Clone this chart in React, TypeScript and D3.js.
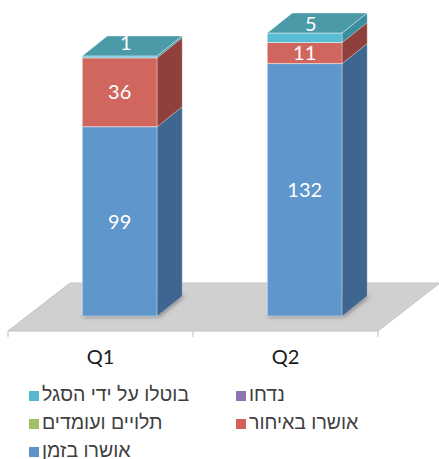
import React from "react";
import * as d3 from "d3";

const categories = ["Q1", "Q2"];
const approvedOnTime = [99, 132];
const approvedLate = [36, 11];
const pending = [0, 0];
const rejected = [0, 0];
const cancelled = [1, 5];

const seriesNames = {
  onTime: "אושרו בזמן",
  late: "אושרו באיחור",
  pending: "תלויים ועומדים",
  rejected: "נדחו",
  cancelled: "בוטלו על ידי הסגל",
};
const stackKeys = ["onTime", "late", "pending", "rejected", "cancelled"];
const legendOrder = ["cancelled", "rejected", "pending", "late", "onTime"];

const colors: Record<string, { front: string; side: string; top: string; legend: string }> = {
  onTime: { front: "#5F96CC", side: "#3E6690", top: "#5084B8", legend: "#5E93C9" },
  late: { front: "#D1665E", side: "#8F403C", top: "#B85550", legend: "#D0645C" },
  pending: { front: "#A4C467", side: "#6E8A3E", top: "#8FAD55", legend: "#A2C165" },
  rejected: { front: "#8C72B0", side: "#5E4A7A", top: "#7A62A0", legend: "#8C74B0" },
  cancelled: { front: "#58BCD2", side: "#3B8E9E", top: "#4A9AA8", legend: "#57B9CF" },
};

const W = 439;
const H = 459;
const floorFrontY = 331;
const floorLeft = 8;
const floorRight = 378;
const floorDX = 62;
const floorDY = -48;
const barT = 0.31;
const depthDX = 25;
const depthDY = -20;
const barFrac = 0.405;

export default function App() {
  const rows = categories.map((c, i) => ({
    cat: c,
    onTime: approvedOnTime[i],
    late: approvedLate[i],
    pending: pending[i],
    rejected: rejected[i],
    cancelled: cancelled[i],
  }));
  const stacked = d3.stack<any>().keys(stackKeys)(rows);

  const baseY = floorFrontY + floorDY * barT;
  const shiftX = floorDX * barT;
  const y = d3.scaleLinear().domain([0, 160]).range([baseY, 10]);
  const x = d3.scaleBand().domain(categories).range([floorLeft, floorRight]).padding(0);
  const bw = x.bandwidth() * barFrac;

  const font = "Lato, 'Open Sans', sans-serif";
  const hebFont = "'Liberation Sans', 'DejaVu Sans', sans-serif";

  const bars = categories.map((c, ci) => {
    const cx = (x(c) as number) + x.bandwidth() / 2 + shiftX;
    const x0 = cx - bw / 2;
    const x1 = cx + bw / 2;
    const segs = stacked
      .map((s) => ({ key: s.key, v0: s[ci][0], v1: s[ci][1] }))
      .filter((s) => s.v1 - s.v0 > 0);
    const topSeg = segs[segs.length - 1];
    return { c, cx, x0, x1, segs, topSeg };
  });

  return (
    <svg
      width={W}
      height={H}
      style={{ position: "absolute", left: 0, top: 0, background: "#fff" }}
    >
      <defs>
        <filter id="shadow" x="-30%" y="-30%" width="160%" height="160%">
          <feGaussianBlur stdDeviation="2" />
        </filter>
      </defs>
      {/* floor */}
      <polygon
        points={[
          [floorLeft, floorFrontY],
          [floorRight, floorFrontY],
          [floorRight + floorDX, floorFrontY + floorDY],
          [floorLeft + floorDX, floorFrontY + floorDY],
        ]
          .map((p) => p.join(","))
          .join(" ")}
        fill="#D0D0D0"
        stroke="#C4C4C4"
        strokeWidth={1}
      />
      {/* ticks */}
      {[floorLeft, ...categories.map((c) => (x(c) as number) + x.bandwidth())].map((tx, i) => (
        <line key={i} x1={tx} x2={tx} y1={floorFrontY} y2={floorFrontY + 6} stroke="#BFBFBF" strokeWidth={1} />
      ))}
      {/* shadows */}
      {bars.map((b) => (
        <polygon
          key={"sh" + b.c}
          points={[
            [b.x0 - 1, baseY + 1],
            [b.x1 + 2, baseY + 1],
            [b.x1 + depthDX + 3, baseY + depthDY],
            [b.x0 + depthDX, baseY + depthDY],
          ]
            .map((p) => p.join(","))
            .join(" ")}
          fill="#555"
          opacity={0.6}
          filter="url(#shadow)"
        />
      ))}
      {/* bars */}
      {bars.map((b) => (
        <g key={b.c}>
          {b.segs.map((s) => {
            const yt = y(s.v1);
            const yb = y(s.v0);
            const col = colors[s.key];
            return (
              <g key={s.key}>
                <rect
                  x={b.x0}
                  y={yt}
                  width={b.x1 - b.x0}
                  height={yb - yt}
                  fill={col.front}
                  stroke="#ffffff"
                  strokeOpacity={0.45}
                  strokeWidth={1}
                />
                <polygon
                  points={[
                    [b.x1, yb],
                    [b.x1 + depthDX, yb + depthDY],
                    [b.x1 + depthDX, yt + depthDY],
                    [b.x1, yt],
                  ]
                    .map((p) => p.join(","))
                    .join(" ")}
                  fill={col.side}
                  stroke="#ffffff"
                  strokeOpacity={0.3}
                  strokeWidth={0.8}
                />
              </g>
            );
          })}
          {b.topSeg && (
            <polygon
              points={[
                [b.x0, y(b.topSeg.v1)],
                [b.x1, y(b.topSeg.v1)],
                [b.x1 + depthDX, y(b.topSeg.v1) + depthDY],
                [b.x0 + depthDX, y(b.topSeg.v1) + depthDY],
              ]
                .map((p) => p.join(","))
                .join(" ")}
              fill={colors[b.topSeg.key].top}
              stroke="#ffffff"
              strokeOpacity={0.45}
              strokeWidth={1}
            />
          )}
          {b.segs.map((s) => {
            const yt = y(s.v1);
            const yb = y(s.v0);
            const small = yb - yt < 16;
            const lx = b.cx + (small ? 6 : 0);
            const ly = (yt + yb) / 2 + (small ? -14 : 0);
            return (
              <text
                key={"l" + s.key}
                x={lx}
                y={ly}
                dy="0.36em"
                textAnchor="middle"
                fill="#fff"
                fontFamily={font}
                fontSize={20}
              >
                {s.v1 - s.v0}
              </text>
            );
          })}
        </g>
      ))}
      {/* category labels */}
      {categories.map((c) => (
        <text
          key={"c" + c}
          x={(x(c) as number) + x.bandwidth() / 2}
          y={364}
          textAnchor="middle"
          fill="#1a1a1a"
          fontFamily={font}
          fontSize={20}
        >
          {c}
        </text>
      ))}
      {/* legend */}
      {legendOrder.map((k, i) => {
        const col = i % 2;
        const row = Math.floor(i / 2);
        const lx = col === 0 ? 29 : 236;
        const ly = 391 + row * 28;
        return (
          <g key={"lg" + k}>
            <rect x={lx} y={ly} width={10} height={10} fill={colors[k].legend} />
            <text x={lx + 13} y={ly + 10} fill="#404040" fontFamily={hebFont} fontSize={19.5} textAnchor="start">
              {(seriesNames as any)[k]}
            </text>
          </g>
        );
      })}
    </svg>
  );
}
